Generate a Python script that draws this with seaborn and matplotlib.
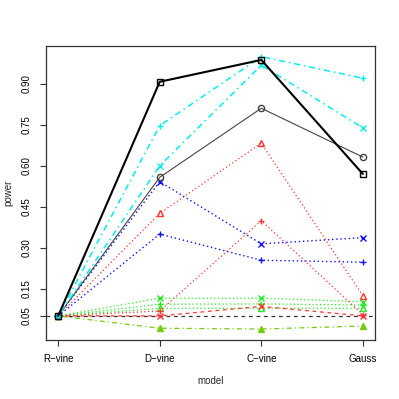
import pandas as pd
import seaborn as sns
import matplotlib
matplotlib.use("Agg")
import matplotlib.pyplot as plt

models = ["R\u2212vine", "D\u2212vine", "C\u2212vine", "Gauss"]

# power per series
black_sq = [0.05, 0.908, 0.988, 0.570]
cyan_plus = [0.05, 0.747, 1.000, 0.921]
cyan_x = [0.05, 0.600, 0.969, 0.739]
gray_circ = [0.05, 0.558, 0.811, 0.632]
red_tri = [0.05, 0.426, 0.683, 0.124]
red_plus = [0.05, 0.068, 0.399, 0.055]
red_x = [0.05, 0.050, 0.085, 0.050]
blue_x = [0.05, 0.542, 0.314, 0.337]
blue_plus = [0.05, 0.350, 0.254, 0.247]
green_x = [0.05, 0.115, 0.115, 0.102]
green_plus = [0.05, 0.093, 0.094, 0.090]
green_tri = [0.05, 0.078, 0.078, 0.078]
olive_tri = [0.05, 0.005, 0.002, 0.013]

dot = (0, (1, 2))
dash = (0, (3, 3))
dotdash = (0, (1, 2.5, 4, 2.5))

# name: (values, colour, linestyle, marker, linewidth, filled)
series = {
    "green_tri": (green_tri, "#22EE22", dot, "^", 0.9, False),
    "green_plus": (green_plus, "#22EE22", dot, "+", 0.9, False),
    "green_x": (green_x, "#22EE22", dot, "x", 0.9, False),
    "olive_tri": (olive_tri, "#77CC11", dotdash, "^", 0.9, True),
    "red_x": (red_x, "#FF3333", dash, "x", 0.9, False),
    "red_plus": (red_plus, "#FF3333", dot, "+", 0.9, False),
    "red_tri": (red_tri, "#FF3333", dot, "^", 0.9, False),
    "blue_plus": (blue_plus, "#1111FF", dot, "+", 1.0, False),
    "blue_x": (blue_x, "#1111FF", dot, "x", 1.0, False),
    "gray_circ": (gray_circ, "#444444", "-", "o", 0.8, False),
    "cyan_x": (cyan_x, "#00EEEE", dotdash, "x", 1.1, False),
    "cyan_plus": (cyan_plus, "#00EEEE", dotdash, "+", 1.1, False),
    "black_sq": (black_sq, "black", "-", "s", 1.5, False),
}

rows = []
for name, (vals, *_rest) in series.items():
    for m, v in zip(models, vals):
        rows.append({"model": m, "power": v, "series": name})
df = pd.DataFrame(rows)

sns.set_style("white")
plt.rcParams["font.family"] = ["Liberation Sans", "DejaVu Sans"]

fig = plt.figure(figsize=(3.99, 3.99), dpi=100)
ax = fig.add_axes([0.1153, 0.148, 0.8247, 0.7367])

ax.axhline(0.05, color="#333333", lw=0.9, ls=(0, (3, 3)), zorder=1)

for name, (vals, col, ls, mk, lw, filled) in series.items():
    sub = df[df["series"] == name]
    sns.lineplot(data=sub, x="model", y="power", ax=ax, color=col,
                 linestyle=ls, linewidth=lw, marker=mk, markersize=4.5,
                 markeredgewidth=1.0, markeredgecolor=col,
                 markerfacecolor=col if filled else "none",
                 sort=False, estimator=None)

ax.set_xlim(-0.12, 3.12)
ax.set_ylim(-0.038, 1.039)
ax.set_yticks([0.05, 0.15, 0.30, 0.45, 0.60, 0.75, 0.90])
ax.set_yticklabels(["0.05", "0.15", "0.30", "0.45", "0.60", "0.75", "0.90"],
                   rotation=90, va="center")
ax.set_xticks(range(4))
ax.set_xticklabels(models)
ax.tick_params(axis="both", labelsize=7, length=4, width=0.8, direction="out",
               colors="#333333", labelcolor="black", bottom=True, left=True, pad=6)
ax.set_xlabel("model", fontsize=7, labelpad=9)
ax.set_ylabel("power", fontsize=7, labelpad=6)
for s in ax.spines.values():
    s.set_color("#333333")
    s.set_linewidth(0.9)
    s.set_visible(True)

fig.savefig("out.png", dpi=100, facecolor="white")
